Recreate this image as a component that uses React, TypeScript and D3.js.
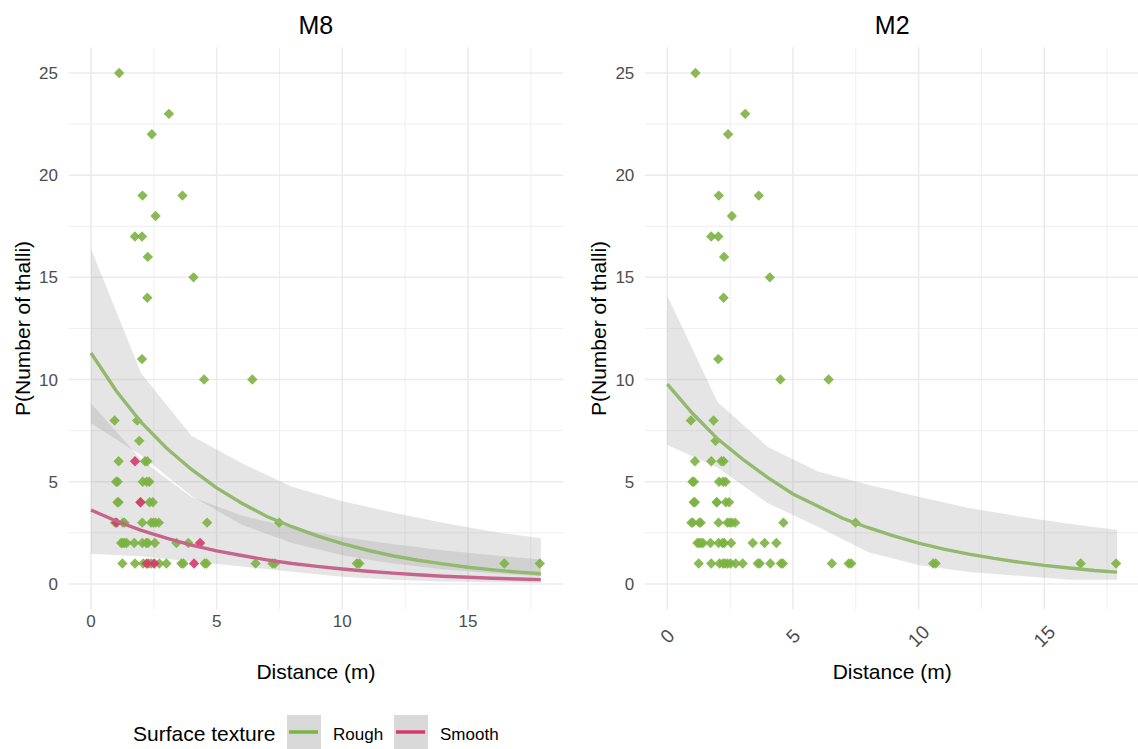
// Two-panel plot (M8 / M2): thalli counts vs distance, with fitted curves and confidence bands
import React from 'react';
import * as d3 from 'd3';

// observed points: distance (m), number of thalli, surface texture
const pointDistance = [
  1.12, 3.1, 2.42, 2.05, 3.64, 2.57, 1.75, 2.03, 2.26, 4.08, 2.24, 2.03, 4.5, 6.42,
  0.94, 1.84, 1.92,
  1.1, 1.75, 2.15, 2.24,
  1.0, 1.06, 2.06, 2.22, 2.32,
  1.05, 1.1, 1.97, 1.97, 2.33, 2.46,
  0.96, 1.02, 1.27, 1.33, 2.04, 2.39, 2.48, 2.57, 2.7, 4.62, 7.49,
  1.2, 1.27, 1.34, 1.42, 1.72, 2.04, 2.2, 2.27, 2.54, 3.4, 3.87, 4.34,
  1.25, 1.75, 2.08, 2.22, 2.3, 2.4, 2.52, 2.72, 3.0, 3.6, 3.68, 4.1, 4.52, 4.6, 6.55, 7.22, 7.32,
  10.58, 10.68, 16.45, 17.86,
];
const pointThalli = [
  25, 23, 22, 19, 19, 18, 17, 17, 16, 15, 14, 11, 10, 10,
  8, 8, 7,
  6, 6, 6, 6,
  5, 5, 5, 5, 5,
  4, 4, 4, 4, 4, 4,
  3, 3, 3, 3, 3, 3, 3, 3, 3, 3, 3,
  2, 2, 2, 2, 2, 2, 2, 2, 2, 2, 2, 2,
  1, 1, 1, 1, 1, 1, 1, 1, 1, 1, 1, 1, 1, 1, 1, 1, 1,
  1, 1, 1, 1,
];
const pointTexture = [
  'R', 'R', 'R', 'R', 'R', 'R', 'R', 'R', 'R', 'R', 'R', 'R', 'R', 'R',
  'R', 'R', 'R',
  'R', 'S', 'R', 'R',
  'R', 'R', 'R', 'R', 'R',
  'R', 'R', 'R', 'S', 'R', 'R',
  'R', 'S', 'R', 'R', 'R', 'R', 'R', 'R', 'R', 'R', 'R',
  'R', 'R', 'R', 'R', 'R', 'R', 'R', 'R', 'R', 'R', 'R', 'S',
  'R', 'R', 'R', 'S', 'R', 'R', 'S', 'R', 'R', 'R', 'R', 'S', 'R', 'R', 'R', 'R', 'R',
  'R', 'R', 'R', 'R',
];

// fitted curves, read along the distance axis
const fitX = [0, 1, 2, 3, 4, 5, 6, 7, 8, 9, 10, 11, 12, 13, 14, 15, 16, 17, 17.9];
const m8Rough = [11.3, 9.45, 7.9, 6.65, 5.6, 4.7, 3.95, 3.3, 2.8, 2.35, 1.97, 1.65, 1.38, 1.16, 0.98, 0.82, 0.69, 0.58, 0.5];
const m8Smooth = [3.62, 3.08, 2.62, 2.24, 1.9, 1.62, 1.39, 1.18, 1.0, 0.86, 0.73, 0.62, 0.53, 0.45, 0.38, 0.33, 0.28, 0.24, 0.21];
const m2Fit = [9.78, 8.35, 7.1, 6.1, 5.2, 4.4, 3.8, 3.2, 2.75, 2.35, 2.0, 1.7, 1.46, 1.25, 1.07, 0.91, 0.78, 0.66, 0.58];

// confidence bands (coarser grid)
const bandX = [0, 2, 4, 6, 8, 10, 12, 14, 16, 17.9];
const m8RoughLo = [7.86, 6.28, 4.3, 2.9, 2.0, 1.4, 1.0, 0.72, 0.52, 0.38];
const m8RoughHi = [16.4, 10.3, 7.25, 5.9, 4.75, 4.05, 3.5, 3.0, 2.55, 2.23];
const m8SmoothLo = [1.48, 1.35, 1.1, 0.85, 0.6, 0.35, 0.2, 0.12, 0.08, 0.05];
const m8SmoothHi = [8.84, 6.08, 4.25, 3.35, 2.75, 2.3, 1.95, 1.65, 1.4, 1.2];
const m2Lo = [6.8, 5.7, 3.95, 2.8, 1.55, 0.93, 0.58, 0.4, 0.2, 0.2];
const m2Hi = [14.1, 8.9, 6.7, 5.5, 4.85, 4.27, 3.72, 3.3, 2.95, 2.64];

const xMajor = [0, 5, 10, 15];
const xMinor = [2.5, 7.5, 12.5, 17.5];
const yMajor = [0, 5, 10, 15, 20, 25];
const yMinor = [2.5, 7.5, 12.5, 17.5, 22.5];

const textures = ['Rough', 'Smooth'];
const textureColor = { R: '#7cb342', S: '#d6396d' };
const lineColor = { R: '#93b96f', S: '#c6648c' };

const FONT = '"Liberation Sans", Arial, sans-serif';
const Y_TOP = 47.4, Y_BOTTOM = 609.5;

const toPts = (xs, ys) => xs.map((v, i) => [v, ys[i]]);

const Panel = ({ left, right, title, bands, lines, byTexture, rotateTicks }) => {
  const x = d3.scaleLinear().domain([-0.895, 18.795]).range([left, right]);
  const y = d3.scaleLinear().domain([-1.25, 26.25]).range([Y_BOTTOM, Y_TOP]);
  const cx = (left + right) / 2;

  const area = d3.area().x(d => x(d[0])).y0(d => y(d[1])).y1(d => y(d[2]));
  const line = d3.line().x(d => x(d[0])).y(d => y(d[1]));
  const diamond = d3.symbol().type(d3.symbolSquare).size(54)();

  // rough points first, smooth on top
  const order = d3.range(pointDistance.length).sort((a, b) =>
    (pointTexture[a] === 'S') - (pointTexture[b] === 'S'));

  return (
    <g fontFamily={FONT}>
      {/* grid */}
      {yMinor.map(v => <line key={'ym' + v} x1={left} x2={right} y1={y(v)} y2={y(v)} stroke="#ebebeb" strokeWidth={0.8} />)}
      {xMinor.map(v => <line key={'xm' + v} x1={x(v)} x2={x(v)} y1={Y_TOP} y2={Y_BOTTOM} stroke="#ebebeb" strokeWidth={0.8} />)}
      {yMajor.map(v => <line key={'yM' + v} x1={left} x2={right} y1={y(v)} y2={y(v)} stroke="#ebebeb" strokeWidth={1.5} />)}
      {xMajor.map(v => <line key={'xM' + v} x1={x(v)} x2={x(v)} y1={Y_TOP} y2={Y_BOTTOM} stroke="#ebebeb" strokeWidth={1.5} />)}

      {/* confidence bands */}
      {bands.map((b, i) => (
        <path key={'band' + i} d={area(bandX.map((v, j) => [v, b.lo[j], b.hi[j]]))} fill="#999999" fillOpacity={0.26} />
      ))}

      {/* points */}
      {order.map(i => (
        <path key={'p' + i} d={diamond}
          transform={`translate(${x(pointDistance[i])},${y(pointThalli[i])}) rotate(45)`}
          fill={byTexture ? textureColor[pointTexture[i]] : textureColor.R} fillOpacity={0.9} />
      ))}

      {/* fitted lines */}
      {lines.map((l, i) => (
        <path key={'line' + i} d={line(toPts(fitX, l.values))} fill="none" stroke={lineColor[l.tex]} strokeWidth={3.4} />
      ))}

      {/* y axis */}
      {yMajor.map(v => (
        <text key={'yt' + v} x={left - 10.5} y={y(v)} dy="0.35em" textAnchor="end" fontSize={17} fill="#4d4d4d">{v}</text>
      ))}
      <text transform={`translate(${left - 46},${(Y_TOP + Y_BOTTOM) / 2}) rotate(-90)`} dy="0.35em" textAnchor="middle" fontSize={21} fill="#000">P(Number of thalli)</text>

      {/* x axis */}
      {xMajor.map(v => rotateTicks
        ? <text key={'xt' + v} transform={`translate(${x(v)},636) rotate(-45)`} dy="0.35em" textAnchor="middle" fontSize={19} fill="#4d4d4d">{v}</text>
        : <text key={'xt' + v} x={x(v)} y={621} dy="0.35em" textAnchor="middle" fontSize={17} fill="#4d4d4d">{v}</text>)}
      <text x={cx} y={672} dy="0.35em" textAnchor="middle" fontSize={21} fill="#000">Distance (m)</text>

      <text x={cx} y={25} dy="0.35em" textAnchor="middle" fontSize={25} fill="#000">{title}</text>
    </g>
  );
};

const Legend = () => {
  const keys = [
    { label: textures[0], tex: 'R', x: 287 },
    { label: textures[1], tex: 'S', x: 394 },
  ];
  return (
    <g fontFamily={FONT}>
      <text x={133} y={734} dy="0.35em" fontSize={21} fill="#000">Surface texture</text>
      {keys.map(k => (
        <g key={k.label}>
          <rect x={k.x} y={715} width={34} height={34} fill="#d9d9d9" />
          <line x1={k.x + 2} x2={k.x + 31} y1={732} y2={732} stroke={textureColor[k.tex]} strokeWidth={3.5} />
          <text x={k.x + 46} y={734} dy="0.35em" fontSize={17} fill="#000">{k.label}</text>
        </g>
      ))}
    </g>
  );
};

export default function App() {
  return (
    <div style={{ position: 'absolute', left: 0, top: 0, background: '#fff' }}>
      <svg width={1138} height={749} viewBox="0 0 1138 749">
        <rect width={1138} height={749} fill="#fff" />
        <Panel left={68.5} right={563.3} title="M8" byTexture rotateTicks={false}
          bands={[{ lo: m8RoughLo, hi: m8RoughHi }, { lo: m8SmoothLo, hi: m8SmoothHi }]}
          lines={[{ values: m8Rough, tex: 'R' }, { values: m8Smooth, tex: 'S' }]} />
        <Panel left={644.8} right={1139.6} title="M2" byTexture={false} rotateTicks
          bands={[{ lo: m2Lo, hi: m2Hi }]}
          lines={[{ values: m2Fit, tex: 'R' }]} />
        <Legend />
      </svg>
    </div>
  );
}
